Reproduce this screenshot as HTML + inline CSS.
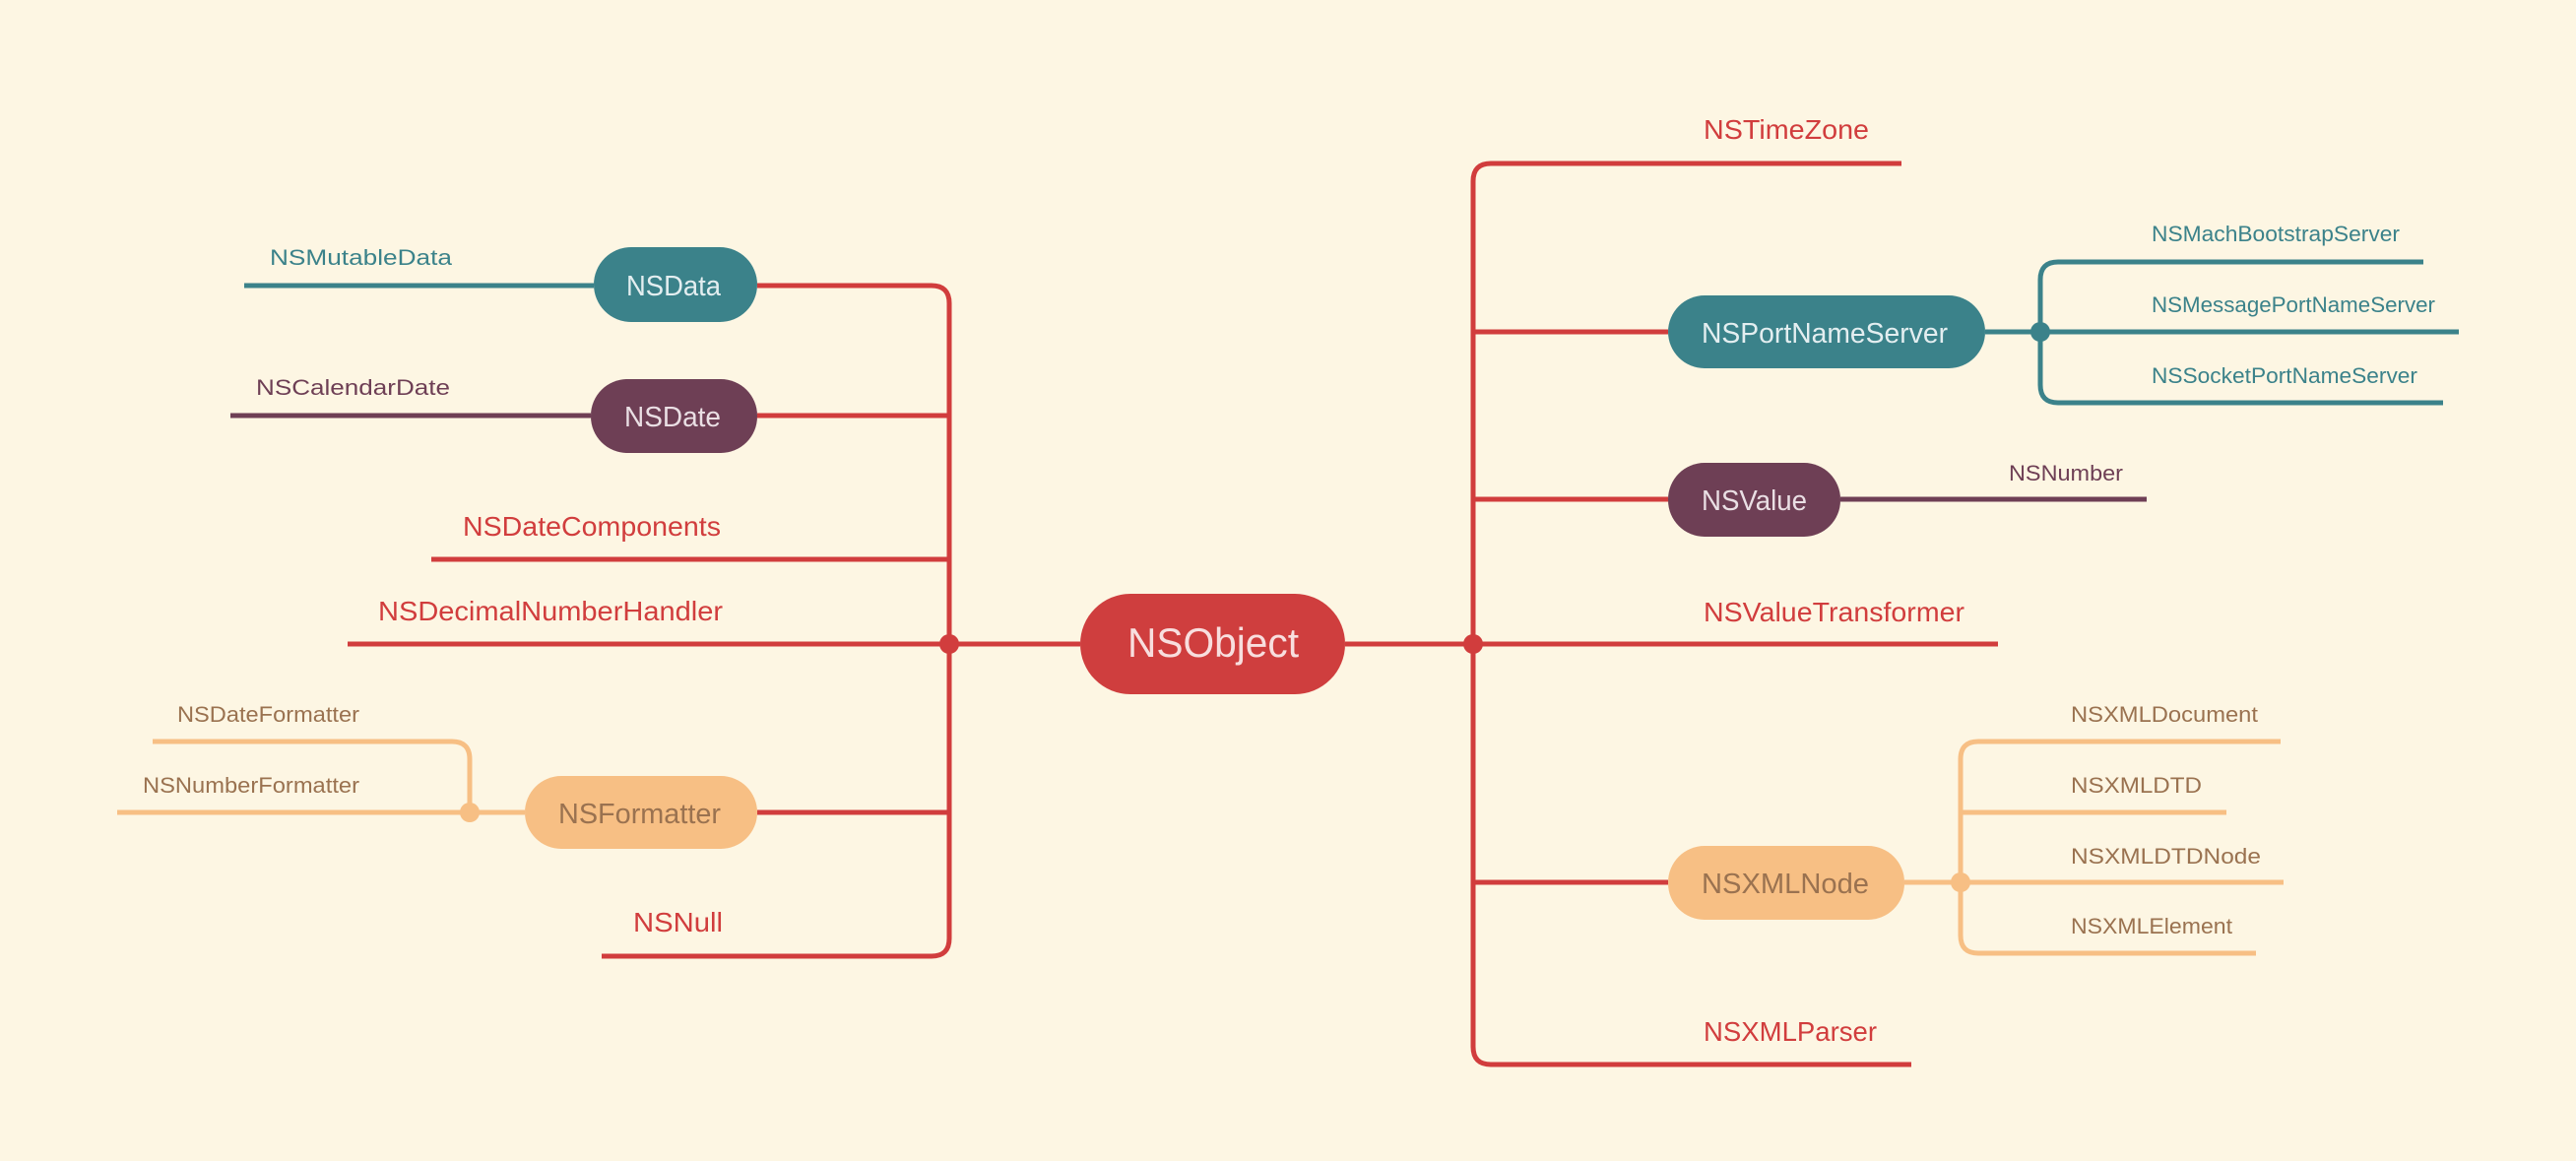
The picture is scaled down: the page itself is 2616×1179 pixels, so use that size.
<!DOCTYPE html>
<html><head><meta charset="utf-8"><style>
html,body{margin:0;padding:0;background:#fdf6e3;}
svg{display:block;}
text{font-family:"Liberation Sans",sans-serif;}
</style></head><body>
<svg width="2616" height="1179" viewBox="0 0 2616 1179" xmlns="http://www.w3.org/2000/svg">
<rect width="2616" height="1179" fill="#fdf6e3"/>
<g fill="none" stroke-width="5">
<!-- left spine -->
<path d="M769 290 H946 Q964 290 964 308 V953 Q964 971 946 971 H611" stroke="#d13d3d"/>
<path d="M769 422 H964 M438 568 H964 M353 654 H1097 M769 825 H964" stroke="#d13d3d"/>
<!-- right spine -->
<path d="M1931 166 H1514 Q1496 166 1496 184 V1063 Q1496 1081 1514 1081 H1941" stroke="#d13d3d"/>
<path d="M1496 337 H1694 M1496 507 H1694 M1366 654 H2029 M1496 896 H1694" stroke="#d13d3d"/>
<!-- left children -->
<path d="M248 290 H603" stroke="#3b828a"/>
<path d="M234 422 H600" stroke="#6e3f55"/>
<path d="M119 825 H533 M155 753 H459 Q477 753 477 771 V825" stroke="#f7bf84"/>
<!-- right children -->
<path d="M2016 337 H2497 M2461 266 H2090 Q2072 266 2072 284 V391 Q2072 409 2090 409 H2481" stroke="#3b828a"/>
<path d="M1869 507 H2180" stroke="#6e3f55"/>
<path d="M1934 896 H2319 M2316 753 H2009 Q1991 753 1991 771 V950 Q1991 968 2009 968 H2291 M1991 825 H2261" stroke="#f7bf84"/>
</g>
<circle cx="964" cy="654" r="10" fill="#d13d3d"/>
<circle cx="1496" cy="654" r="10" fill="#d13d3d"/>
<circle cx="2072" cy="337" r="10" fill="#3b828a"/>
<circle cx="477" cy="825" r="10" fill="#f7bf84"/>
<circle cx="1991" cy="896" r="10" fill="#f7bf84"/>
<!-- pills -->
<rect x="1097" y="603" width="269" height="102" rx="51" fill="#cf3e3e"/>
<rect x="603" y="251" width="166" height="76" rx="38" fill="#3b828a"/>
<rect x="600" y="385" width="169" height="75" rx="37" fill="#6e3f55"/>
<rect x="533" y="788" width="236" height="74" rx="37" fill="#f7bf84"/>
<rect x="1694" y="300" width="322" height="74" rx="37" fill="#3b828a"/>
<rect x="1694" y="470" width="175" height="75" rx="37" fill="#6e3f55"/>
<rect x="1694" y="859" width="240" height="75" rx="37" fill="#f7bf84"/>
<!-- pill texts -->
<text x="1145" y="667" font-size="42" fill="#f8dede" textLength="174" lengthAdjust="spacingAndGlyphs">NSObject</text>
<text x="636" y="300" font-size="29" fill="#e3eef0" textLength="96" lengthAdjust="spacingAndGlyphs">NSData</text>
<text x="634" y="433" font-size="29" fill="#eadfe4" textLength="98" lengthAdjust="spacingAndGlyphs">NSDate</text>
<text x="567" y="836" font-size="29" fill="#9a7250" textLength="165" lengthAdjust="spacingAndGlyphs">NSFormatter</text>
<text x="1728" y="348" font-size="29" fill="#e3eef0" textLength="250" lengthAdjust="spacingAndGlyphs">NSPortNameServer</text>
<text x="1728" y="518" font-size="29" fill="#eadfe4" textLength="107" lengthAdjust="spacingAndGlyphs">NSValue</text>
<text x="1728" y="907" font-size="29" fill="#9a7250" textLength="170" lengthAdjust="spacingAndGlyphs">NSXMLNode</text>
<!-- main labels -->
<g font-size="28" fill="#d13d3d">
<text x="470" y="544" textLength="262" lengthAdjust="spacingAndGlyphs">NSDateComponents</text>
<text x="384" y="630" textLength="350" lengthAdjust="spacingAndGlyphs">NSDecimalNumberHandler</text>
<text x="643" y="946" textLength="91" lengthAdjust="spacingAndGlyphs">NSNull</text>
<text x="1730" y="141" textLength="168" lengthAdjust="spacingAndGlyphs">NSTimeZone</text>
<text x="1730" y="631" textLength="265" lengthAdjust="spacingAndGlyphs">NSValueTransformer</text>
<text x="1730" y="1057" textLength="176" lengthAdjust="spacingAndGlyphs">NSXMLParser</text>
</g>
<!-- child labels -->
<g font-size="22">
<text x="274" y="269" fill="#3b828a" textLength="185" lengthAdjust="spacingAndGlyphs">NSMutableData</text>
<text x="260" y="401" fill="#6e3f55" textLength="197" lengthAdjust="spacingAndGlyphs">NSCalendarDate</text>
<text x="180" y="733" fill="#9a7250" textLength="185" lengthAdjust="spacingAndGlyphs">NSDateFormatter</text>
<text x="145" y="805" fill="#9a7250" textLength="220" lengthAdjust="spacingAndGlyphs">NSNumberFormatter</text>
<text x="2185" y="245" fill="#3b828a" textLength="252" lengthAdjust="spacingAndGlyphs">NSMachBootstrapServer</text>
<text x="2185" y="317" fill="#3b828a" textLength="288" lengthAdjust="spacingAndGlyphs">NSMessagePortNameServer</text>
<text x="2185" y="389" fill="#3b828a" textLength="270" lengthAdjust="spacingAndGlyphs">NSSocketPortNameServer</text>
<text x="2040" y="488" fill="#6e3f55" textLength="116" lengthAdjust="spacingAndGlyphs">NSNumber</text>
<text x="2103" y="733" fill="#9a7250" textLength="190" lengthAdjust="spacingAndGlyphs">NSXMLDocument</text>
<text x="2103" y="805" fill="#9a7250" textLength="133" lengthAdjust="spacingAndGlyphs">NSXMLDTD</text>
<text x="2103" y="877" fill="#9a7250" textLength="193" lengthAdjust="spacingAndGlyphs">NSXMLDTDNode</text>
<text x="2103" y="948" fill="#9a7250" textLength="164" lengthAdjust="spacingAndGlyphs">NSXMLElement</text>
</g>
</svg>
</body></html>
